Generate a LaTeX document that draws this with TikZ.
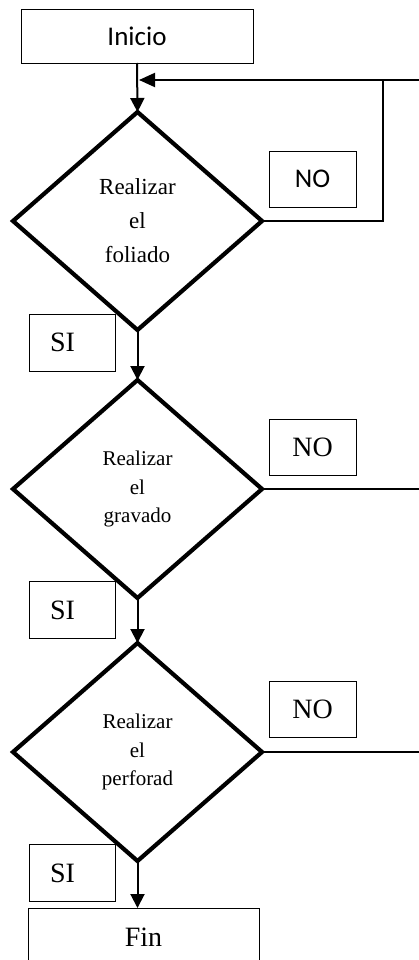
\documentclass[tikz,border=0pt]{standalone}
\usepackage{fontspec}
\setmainfont{Liberation Serif}
\newfontfamily\labelsans{Carlito}
\usetikzlibrary{shapes.geometric,arrows.meta}

\tikzset{
  decision/.style={draw, diamond, line width=4.2pt, inner sep=0pt, outer sep=0pt,
    minimum width=249pt, minimum height=218pt, align=center},
  terminal/.style={draw, rectangle, line width=0.9pt, inner sep=0pt, outer sep=0pt},
  tag/.style={draw, rectangle, line width=0.9pt, inner sep=0pt, outer sep=0pt,
    minimum width=87pt, minimum height=56pt},
  sitag/.style={tag, minimum width=86pt, minimum height=57pt, text width=44pt,
    inner xsep=21pt, align=left},
  flow/.style={line width=2pt, -{Triangle[width=14pt,length=14pt]}},
  backflow/.style={line width=2pt, -{Triangle[width=14pt,length=16pt]}},
  wire/.style={line width=1.3pt},
}

\begin{document}
\begin{tikzpicture}[x=1pt, y=-1pt]
  \useasboundingbox (0,0) rectangle (419,960);
  \clip (0,0) rectangle (419,960);

  % start and end boxes
  \node[terminal, minimum width=232pt, minimum height=54pt,
        font=\labelsans\fontsize{27}{30}\selectfont] (inicio) at (137,36) {Inicio};
  \node[terminal, minimum width=231pt, minimum height=58pt,
        font=\fontsize{28}{30}\selectfont] (fin) at (143.5,937) {Fin};

  % decisions
  \node[decision, font=\fontsize{23}{34}\selectfont] (d1) at (137.5,221)
    {Realizar\\el\\foliado};
  \node[decision, font=\fontsize{21}{28.5}\selectfont] (d2) at (137.5,489)
    {Realizar\\el\\gravado};
  \node[decision, font=\fontsize{21}{28.5}\selectfont] (d3) at (137.5,752)
    {Realizar\\el\\perforad};

  % answer tags
  \node[tag, font=\labelsans\fontsize{27}{30}\selectfont] (no1) at (312.5,179) {NO};
  \node[tag, font=\fontsize{28}{30}\selectfont] (no2) at (312.5,447) {NO};
  \node[tag, font=\fontsize{28}{30}\selectfont] (no3) at (312.5,709) {NO};
  \node[sitag, font=\fontsize{28}{30}\selectfont] (si1) at (72,342.5) {SI};
  \node[sitag, font=\fontsize{28}{30}\selectfont] (si2) at (72,610) {SI};
  \node[sitag, font=\fontsize{28}{30}\selectfont] (si3) at (72,873) {SI};

  % helper points for the return loop and the open exits
  \coordinate (merge) at (139,80);
  \coordinate (loopturn) at (383,80);
  \coordinate (loopin) at (420,80);
  \coordinate (exit2) at (420,489);
  \coordinate (exit3) at (420,752);

  % main flow
  \draw[flow] (inicio.south) -- (d1.north);
  \draw[flow] (d1.south) -- (d2.north);
  \draw[flow] (d2.south) -- (d3.north);
  \draw[flow] (d3.south) -- (d3.south |- fin.north);

  % NO branches
  \draw[wire] (d1.east) -| (loopturn);
  \draw[backflow] (loopin) -- (merge);
  \draw[wire] (d2.east) -- (exit2);
  \draw[wire] (d3.east) -- (exit3);
\end{tikzpicture}
\end{document}
